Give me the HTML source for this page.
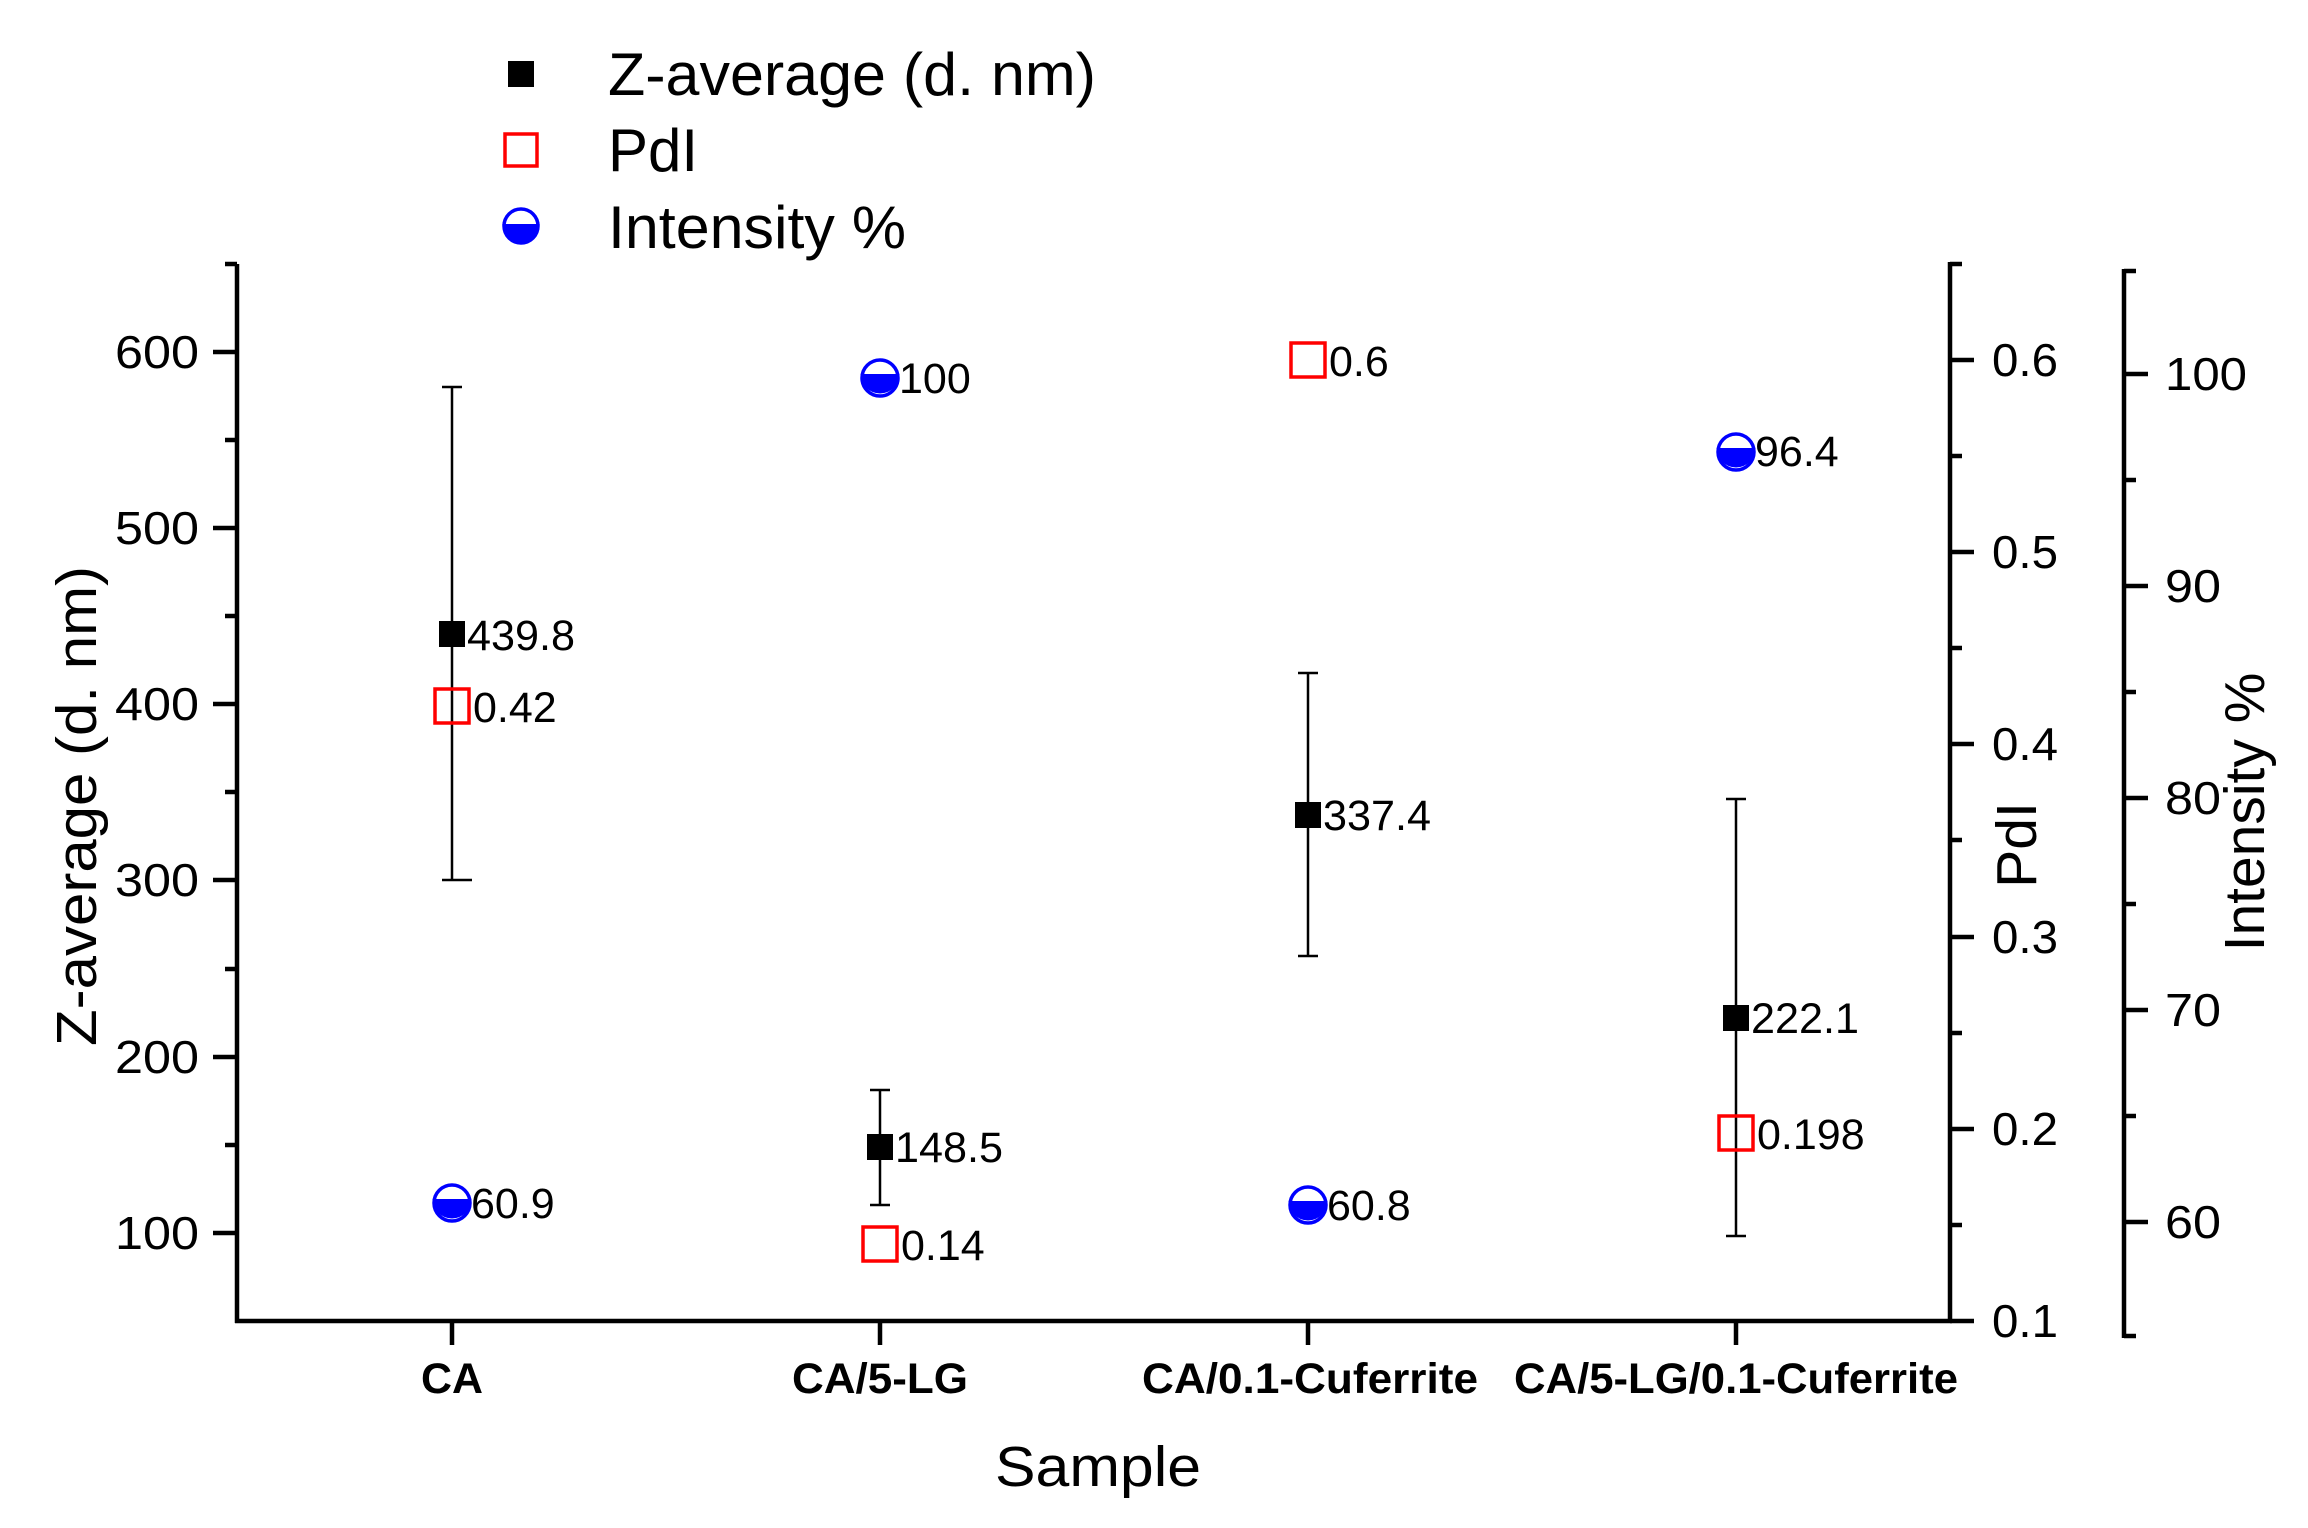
<!DOCTYPE html>
<html><head><meta charset="utf-8"><style>html,body{margin:0;padding:0;background:#fff}svg{display:block}</style></head>
<body>
<svg width="2308" height="1528" viewBox="0 0 2308 1528" xmlns="http://www.w3.org/2000/svg" font-family="Liberation Sans, Arial, sans-serif">
<rect width="2308" height="1528" fill="#fff"/>
<g stroke="#000" stroke-width="4.5" fill="none">
<line x1="237" y1="264" x2="237" y2="1323"/>
<line x1="235" y1="1321" x2="1952" y2="1321"/>
<line x1="1950" y1="262" x2="1950" y2="1323"/>
<line x1="1950" y1="264" x2="1962" y2="264"/>
<line x1="2124" y1="269" x2="2124" y2="1338"/>
<line x1="2124" y1="271" x2="2136" y2="271"/>
<line x1="2124" y1="1336" x2="2136" y2="1336"/>
<path d="M213 1233H237M213 1057H237M213 880H237M213 704H237M213 528H237M213 352H237M225 1145H237M225 969H237M225 792H237M225 616H237M225 440H237M225 264H237"/>
<path d="M452 1321V1345M880 1321V1345M1308 1321V1345M1736 1321V1345"/>
<path d="M1950 1129H1974M1950 937H1974M1950 744H1974M1950 552H1974M1950 360H1974M1950 1225H1962M1950 1033H1962M1950 840H1962M1950 648H1962M1950 456H1962M1950 1321H1974"/>
<path d="M2124 1222H2148M2124 1010H2148M2124 798H2148M2124 586H2148M2124 374H2148M2124 1116H2136M2124 904H2136M2124 692H2136M2124 480H2136"/>
</g>
<g font-size="46" fill="#000" text-anchor="end">
<text x="199" y="1249" textLength="84" lengthAdjust="spacingAndGlyphs">100</text>
<text x="199" y="1073" textLength="84" lengthAdjust="spacingAndGlyphs">200</text>
<text x="199" y="896" textLength="84" lengthAdjust="spacingAndGlyphs">300</text>
<text x="199" y="720" textLength="84" lengthAdjust="spacingAndGlyphs">400</text>
<text x="199" y="544" textLength="84" lengthAdjust="spacingAndGlyphs">500</text>
<text x="199" y="368" textLength="84" lengthAdjust="spacingAndGlyphs">600</text>
</g>
<g font-size="46" fill="#000">
<text x="1992" y="1337" textLength="66" lengthAdjust="spacingAndGlyphs">0.1</text>
<text x="1992" y="1145" textLength="66" lengthAdjust="spacingAndGlyphs">0.2</text>
<text x="1992" y="953" textLength="66" lengthAdjust="spacingAndGlyphs">0.3</text>
<text x="1992" y="760" textLength="66" lengthAdjust="spacingAndGlyphs">0.4</text>
<text x="1992" y="568" textLength="66" lengthAdjust="spacingAndGlyphs">0.5</text>
<text x="1992" y="376" textLength="66" lengthAdjust="spacingAndGlyphs">0.6</text>
<text x="2165" y="1238" textLength="56" lengthAdjust="spacingAndGlyphs">60</text>
<text x="2165" y="1026" textLength="56" lengthAdjust="spacingAndGlyphs">70</text>
<text x="2165" y="814" textLength="56" lengthAdjust="spacingAndGlyphs">80</text>
<text x="2165" y="602" textLength="56" lengthAdjust="spacingAndGlyphs">90</text>
<text x="2165" y="390" textLength="82" lengthAdjust="spacingAndGlyphs">100</text>
</g>
<g font-size="43" font-weight="bold" text-anchor="middle" fill="#000">
<text x="452" y="1393" textLength="62" lengthAdjust="spacingAndGlyphs">CA</text>
<text x="880" y="1393" textLength="176" lengthAdjust="spacingAndGlyphs">CA/5-LG</text>
<text x="1310" y="1393" textLength="336" lengthAdjust="spacingAndGlyphs">CA/0.1-Cuferrite</text>
<text x="1736" y="1393" textLength="444" lengthAdjust="spacingAndGlyphs">CA/5-LG/0.1-Cuferrite</text>
</g>
<text x="1098" y="1486" font-size="57" text-anchor="middle" textLength="206" lengthAdjust="spacingAndGlyphs">Sample</text>
<text transform="translate(96,806) rotate(-90)" font-size="57" text-anchor="middle" textLength="480" lengthAdjust="spacingAndGlyphs">Z-average (d. nm)</text>
<text transform="translate(2036,845) rotate(-90)" font-size="57" text-anchor="middle">PdI</text>
<text transform="translate(2264,812) rotate(-90)" font-size="57" text-anchor="middle">Intensity %</text>
<g stroke="#000" stroke-width="2.5">
<path d="M452 387V880M442 387H462M442 880H472"/>
<path d="M880 1090V1205M870 1090H890M870 1205H890"/>
<path d="M1308 673V956M1298 673H1318M1298 956H1318"/>
<path d="M1736 799V1236M1726 799H1746M1726 1236H1746"/>
</g>
<g fill="#000">
<rect x="439" y="621" width="26" height="26"/>
<rect x="867" y="1134" width="26" height="26"/>
<rect x="1295" y="802" width="26" height="26"/>
<rect x="1723" y="1005" width="26" height="26"/>
</g>
<g fill="none" stroke="#f00" stroke-width="3.5">
<rect x="435" y="689" width="34" height="34"/>
<rect x="863" y="1227" width="34" height="34"/>
<rect x="1291" y="343" width="34" height="34"/>
<rect x="1719" y="1116" width="34" height="34"/>
</g>
<defs>
<g id="hc">
<circle r="18" fill="#fff" stroke="#00f" stroke-width="3.5"/>
<path d="M-19.5 -4 A19.5 19.5 0 0 0 19.5 -4 Z" fill="#00f"/>
</g>
</defs>
<use href="#hc" x="452" y="1203"/>
<use href="#hc" x="880" y="378"/>
<use href="#hc" x="1308" y="1205"/>
<use href="#hc" x="1736" y="452"/>
<g font-size="43" fill="#000">
<text x="467" y="650" textLength="108" lengthAdjust="spacingAndGlyphs">439.8</text>
<text x="473" y="722">0.42</text>
<text x="471" y="1218">60.9</text>
<text x="899" y="393">100</text>
<text x="895" y="1162" textLength="108" lengthAdjust="spacingAndGlyphs">148.5</text>
<text x="901" y="1260">0.14</text>
<text x="1329" y="376">0.6</text>
<text x="1323" y="830" textLength="108" lengthAdjust="spacingAndGlyphs">337.4</text>
<text x="1327" y="1220">60.8</text>
<text x="1755" y="466">96.4</text>
<text x="1751" y="1033" textLength="108" lengthAdjust="spacingAndGlyphs">222.1</text>
<text x="1757" y="1149">0.198</text>
</g>
<rect x="508" y="61" width="26" height="26" fill="#000"/>
<rect x="505" y="134" width="32" height="32" fill="none" stroke="#f00" stroke-width="3.5"/>
<g transform="translate(521,226)">
<circle r="17" fill="#fff" stroke="#00f" stroke-width="3.5"/>
<path d="M-18.7 -2 A18.7 18.7 0 0 0 18.7 -2 Z" fill="#00f"/>
</g>
<g font-size="60" fill="#000">
<text x="608" y="95" textLength="488" lengthAdjust="spacingAndGlyphs">Z-average (d. nm)</text>
<text x="608" y="171">PdI</text>
<text x="608" y="248" textLength="298" lengthAdjust="spacingAndGlyphs">Intensity %</text>
</g>
</svg>
</body></html>
